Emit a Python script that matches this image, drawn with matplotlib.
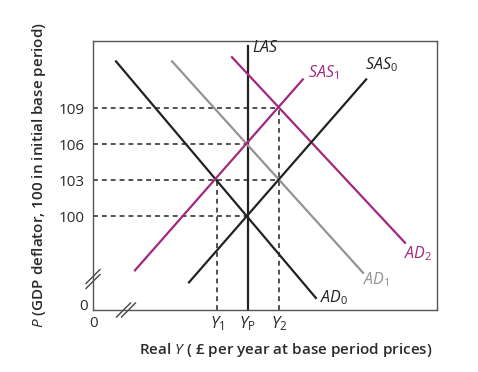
import matplotlib
matplotlib.use("Agg")
import matplotlib.pyplot as plt

plt.rcParams["font.family"] = ["Open Sans", "DejaVu Sans"]
plt.rcParams["mathtext.fontset"] = "custom"
plt.rcParams["mathtext.rm"] = "Open Sans"
plt.rcParams["mathtext.it"] = "Open Sans:italic"
plt.rcParams["mathtext.bf"] = "Open Sans:bold"

# ---------------------------------------------------------------------------
# Data (real GDP in arbitrary units, price level P)
# ---------------------------------------------------------------------------
price_levels = [100, 103, 106, 109]
y_1, y_p, y_2 = 36, 45, 54
y_ticks = [y_1, y_p, y_2]
y_tick_labels = [r"$Y_1$", r"$Y_\mathrm{P}$", r"$Y_2$"]

ad0_x = [6.7, 64.8]
ad0_p = [112.9, 93.2]
ad1_x = [23.0, 78.5]
ad1_p = [112.9, 95.3]
ad2_x = [40.4, 90.7]
ad2_p = [113.25, 97.8]
sas0_x = [27.9, 79.4]
sas0_p = [94.5, 111.4]
sas1_x = [12.2, 61.0]
sas1_p = [95.5, 111.4]
las_x = [y_p, y_p]
las_p = [92.2, 114.2]

# horizontal guides: (price, x where the guide stops)
h_guides = [(109, y_2), (106, y_p), (103, y_2), (100, y_p)]
# vertical guides: (x, price where the guide starts)
v_guides = [(y_1, 103), (y_2, 109)]

XMIN, XMAX = 0, 100
PMIN, PMAX = 92.2, 114.6

BLACK = "#222222"
GREY = "#939393"
MAGENTA = "#a2277f"
TXT = "#2a2a2a"

fig = plt.figure(figsize=(4.78, 3.72), dpi=100)
ax = fig.add_axes([93 / 478, 1 - 310 / 372, 344 / 478, 269 / 372])
ax.set_xlim(XMIN, XMAX)
ax.set_ylim(PMIN, PMAX)

for s in ax.spines.values():
    s.set_color("#555555")
    s.set_linewidth(1.0)

# guides
dash = (0, (3.2, 2.6))
for p, xe in h_guides:
    ax.plot([XMIN, xe], [p, p], color=BLACK, lw=1.1, ls=dash)
for xv, ps in v_guides:
    ax.plot([xv, xv], [PMIN, ps], color=BLACK, lw=1.1, ls=dash)

# curves
lw = 1.6
ax.plot(las_x, las_p, color=BLACK, lw=lw)
ax.plot(ad0_x, ad0_p, color=BLACK, lw=lw)
ax.plot(ad1_x, ad1_p, color=GREY, lw=lw)
ax.plot(ad2_x, ad2_p, color=MAGENTA, lw=lw)
ax.plot(sas0_x, sas0_p, color=BLACK, lw=lw)
ax.plot(sas1_x, sas1_p, color=MAGENTA, lw=lw)

lfs = 11.5
ax.text(46.2, 114.0, r"$LAS$", color=BLACK, fontsize=lfs, va="center")
ax.text(62.5, 112.0, r"$SAS_1$", color=MAGENTA, fontsize=lfs, va="center")
ax.text(79.1, 112.6, r"$SAS_0$", color=BLACK, fontsize=lfs, va="center")
ax.text(66.0, 93.25, r"$AD_0$", color=BLACK, fontsize=lfs, va="center")
ax.text(78.5, 94.75, r"$AD_1$", color=GREY, fontsize=lfs, va="center")
ax.text(90.4, 96.9, r"$AD_2$", color=MAGENTA, fontsize=lfs, va="center")

# ticks
fs = 11
ax.set_yticks(price_levels)
ax.set_yticklabels([str(v) for v in price_levels])
ax.set_xticks(y_ticks)
ax.set_xticklabels(y_tick_labels)
ax.tick_params(length=0, labelsize=fs, colors=TXT, pad=6)
ax.tick_params(axis="x", pad=3, labelsize=12)

ax.text(-1.5, 92.45, "0", color=TXT, fontsize=fs, ha="right", va="center", clip_on=False)
ax.text(0.3, 91.1, "0", color=TXT, fontsize=fs, ha="center", va="center", clip_on=False)

# axis break marks (axes fraction)
def break_mark(cx, cy, offx, offy):
    hx, hy = 7 / 344, 7 / 269
    for k in (-1, 1):
        ox, oy = k * offx / 344, k * offy / 269
        ax.plot([cx - hx + ox, cx + hx + ox], [cy - hy + oy, cy + hy + oy],
                transform=ax.transAxes, color="#444444", lw=1.0, clip_on=False)

break_mark(0.0, 31 / 269, 0, 2.5)
break_mark(33 / 344, 0.0, 2.5, 0)

fig.text(286 / 478, 1 - 350 / 372, r"Real $Y$ ( £ per year at base period prices)",
         ha="center", va="center", fontsize=11, fontweight="semibold", color=TXT)
fig.text(39 / 478, 1 - 175 / 372, r"$P$ (GDP deflator, 100 in initial base period)",
         ha="center", va="center", rotation=90, fontsize=11, fontweight="semibold",
         color=TXT)

fig.savefig("out.png", dpi=100)
